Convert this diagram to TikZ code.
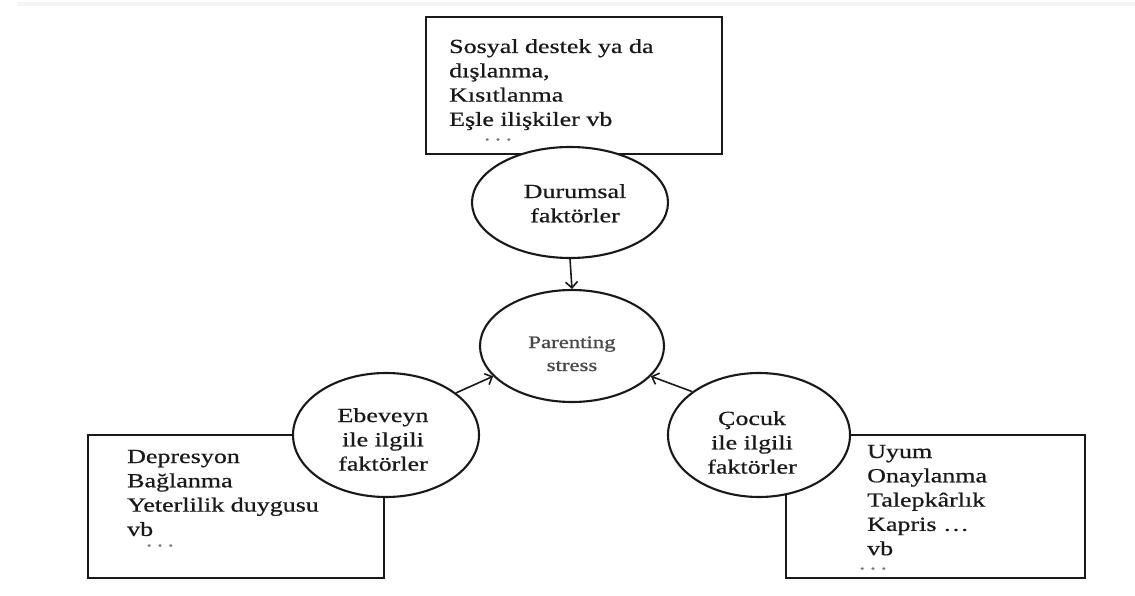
\documentclass[tikz,border=0pt]{standalone}
\usepackage{fontspec}
\setmainfont[FakeStretch=1.3,FakeBold=0.6]{Liberation Serif}
\newfontfamily\psfont[FakeStretch=1.3,FakeBold=0.9]{Liberation Serif}
\usetikzlibrary{arrows.meta,shapes.geometric}
\tikzset{
  box/.style={draw=black!90, line width=2.1pt, rectangle, inner sep=0, fill=white},
  oval/.style={draw=black!90, line width=2.1pt, ellipse, inner sep=0, fill=white},
  conn/.style={draw=black!90, line width=1.6pt, -{Straight Barb[length=6pt,width=12pt,line width=1.6pt]}},
  txt/.style={inner sep=0, anchor=base, font=\fontsize{20}{24.3}\selectfont, text=black!90},
  ptxt/.style={inner sep=0, anchor=base, font=\psfont\fontsize{17.5}{23}\selectfont, text=black!72},
  dots/.style={inner sep=0, anchor=center, font=\fontsize{18}{18}\selectfont, text=black!55}
}
\newcommand{\threedots}{\textperiodcentered\hspace{3pt}\textperiodcentered\hspace{3pt}\textperiodcentered}
\begin{document}
\begin{tikzpicture}[x=1pt,y=-1pt]
\useasboundingbox (0,0) rectangle (1135,596);
\fill[black!4] (17,2) rectangle (1135,6);
% boxes
\node[box, minimum width=296pt, minimum height=137pt] (topbox) at (574,85.5) {};
\node[box, minimum width=296pt, minimum height=143pt] (leftbox) at (236,506.5) {};
\node[box, minimum width=299pt, minimum height=143pt] (rightbox) at (935.5,506.5) {};
% ellipses
\node[oval, minimum width=196pt, minimum height=111pt] (dur) at (570,202.5) {};
\node[oval, minimum width=184pt, minimum height=112pt] (ps) at (572,346) {};
\node[oval, minimum width=186pt, minimum height=124pt] (ebe) at (386,435) {};
\node[oval, minimum width=182pt, minimum height=124pt] (coc) at (759,435) {};
% connectors
\draw[conn] (dur.south) -- (ps.north);
\draw[conn] (ebe.31) -- (ps.201);
\draw[conn] (coc.147.5) -- (ps.-21);
% box texts
\node[txt, anchor=base west] (toptext) at (449,53) {\parbox[t]{270pt}{\raggedright Sosyal destek ya da\\dışlanma,\\Kısıtlanma\\Eşle ilişkiler vb}};
\node[dots] (topdots) at (498,142) {\threedots};
\node[txt, anchor=base west] (lefttext) at (127,463) {\parbox[t]{250pt}{\raggedright Depresyon\\Bağlanma\\Yeterlilik duygusu\\vb}};
\node[dots] (leftdots) at (160,548) {\threedots};
\node[txt, anchor=base west] (righttext) at (867,458) {\parbox[t]{210pt}{\raggedright Uyum\\Onaylanma\\Talepkârlık\\Kapris …\\vb}};
\node[dots] (rightdots) at (873,571) {\threedots};
% ellipse texts
\node[txt] (durtext) at (575,198) {\parbox[t]{180pt}{\centering Durumsal\\faktörler}};
\node[ptxt] (pstext) at (572,348) {\parbox[t]{170pt}{\centering Parenting\\stress}};
\node[txt] (ebetext) at (383,422) {\parbox[t]{170pt}{\centering Ebeveyn\\ile ilgili\\faktörler}};
\node[txt] (coctext) at (752,425) {\parbox[t]{170pt}{\centering Çocuk\\ile ilgili\\faktörler}};
\end{tikzpicture}
\end{document}
